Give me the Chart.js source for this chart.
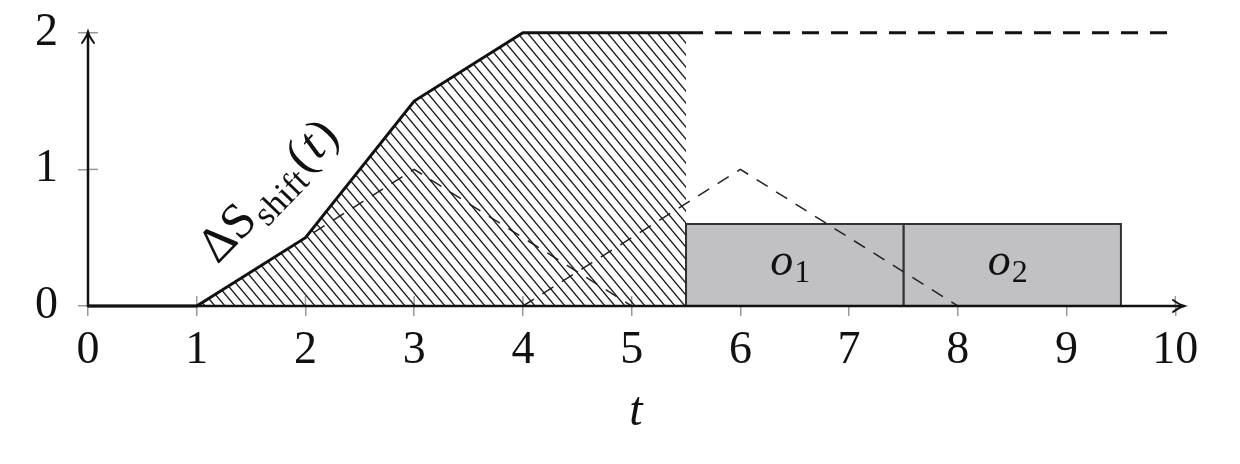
<!DOCTYPE html>
<html>
<head>
<meta charset="utf-8">
<script src="https://cdn.jsdelivr.net/npm/chart.js@4/dist/chart.umd.min.js"></script>
<style>
  html, body { margin: 0; padding: 0; background: #fff; }
  #wrap { width: 1240px; height: 464px; }
</style>
</head>
<body>
<div id="wrap"><canvas id="chart" width="1240" height="464"></canvas></div>
<script>
// shift curve (solid part, hatched underneath)
var shiftT = [0, 1, 2, 3, 4, 5.5];
var shiftS = [0, 0, 0.5, 1.5, 2, 2];
// dashed continuation
var tailT = [5.5, 10];
var tailS = [2, 2];
// two dashed triangles
var tri1T = [1, 3, 5];
var tri1S = [0, 1, 0];
var tri2T = [4, 6, 8];
var tri2S = [0, 1, 0];
// operations (gray boxes)
var opNames = ['o', 'o'];
var opSubs = ['1', '2'];
var opStart = [5.5, 7.5];
var opEnd = [7.5, 9.5];
var opHeight = [0.6, 0.6];
// ticks
var xTicks = [0, 1, 2, 3, 4, 5, 6, 7, 8, 9, 10];
var yTicks = [0, 1, 2];

var serif = '"Liberation Serif", "DejaVu Serif", serif';

function pts(xs, ys) {
  return xs.map(function(x, i) { return { x: x, y: ys[i] }; });
}

function boxPts(i) {
  return [
    { x: opStart[i], y: 0 },
    { x: opStart[i], y: opHeight[i] },
    { x: opEnd[i], y: opHeight[i] },
    { x: opEnd[i], y: 0 }
  ];
}

// north west lines pattern
function hatchPattern() {
  var c = document.createElement('canvas');
  c.width = 10; c.height = 12;
  var g = c.getContext('2d');
  g.strokeStyle = '#1a1a1a';
  g.lineWidth = 1.4;
  [-10, 0, 10].forEach(function(dx) {
    g.beginPath();
    g.moveTo(dx - 1, -1.2);
    g.lineTo(dx + 11, 13.2);
    g.stroke();
  });
  return document.createElement('canvas').getContext('2d').createPattern(c, 'repeat');
}

// axes with arrows + inner tick halves
var axesPlugin = {
  id: 'axes',
  beforeDatasetsDraw: function(chart) {
    var ctx = chart.ctx, xs = chart.scales.x, ys = chart.scales.y;
    var x0 = xs.getPixelForValue(0), y0 = ys.getPixelForValue(0);
    ctx.save();
    ctx.strokeStyle = '#999';
    ctx.lineWidth = 1.5;
    xTicks.forEach(function(v) {
      var px = xs.getPixelForValue(v);
      ctx.beginPath(); ctx.moveTo(px, y0); ctx.lineTo(px, y0 - 10); ctx.stroke();
    });
    yTicks.forEach(function(v) {
      var py = ys.getPixelForValue(v);
      ctx.beginPath(); ctx.moveTo(x0, py); ctx.lineTo(x0 + 10, py); ctx.stroke();
    });
    ctx.restore();
  },
  afterDatasetsDraw: function(chart) {
    var ctx = chart.ctx, xs = chart.scales.x, ys = chart.scales.y;
    var x0 = xs.getPixelForValue(0), y0 = ys.getPixelForValue(0);
    var xr = chart.chartArea.right, yt = chart.chartArea.top + 2;
    ctx.save();
    ctx.strokeStyle = '#111';
    ctx.lineWidth = 2.5;
    ctx.lineCap = 'round';
    ctx.beginPath(); ctx.moveTo(x0, y0); ctx.lineTo(xr, y0); ctx.stroke();
    ctx.beginPath(); ctx.moveTo(x0, y0); ctx.lineTo(x0, yt); ctx.stroke();
    ctx.lineWidth = 2;
    ctx.beginPath();
    ctx.moveTo(xr - 11, y0 - 6); ctx.quadraticCurveTo(xr - 4, y0 - 1, xr, y0);
    ctx.quadraticCurveTo(xr - 4, y0 + 1, xr - 11, y0 + 6);
    ctx.stroke();
    ctx.beginPath();
    ctx.moveTo(x0 - 6, yt + 11); ctx.quadraticCurveTo(x0 - 1, yt + 4, x0, yt);
    ctx.quadraticCurveTo(x0 + 1, yt + 4, x0 + 6, yt + 11);
    ctx.stroke();
    ctx.restore();
  }
};

// text labels: box names and the curve label
var labelPlugin = {
  id: 'labels',
  afterDraw: function(chart) {
    var ctx = chart.ctx, xs = chart.scales.x, ys = chart.scales.y;
    ctx.save();
    ctx.fillStyle = '#111';
    ctx.textBaseline = 'alphabetic';
    opNames.forEach(function(n, i) {
      var cx = xs.getPixelForValue((opStart[i] + opEnd[i]) / 2) - 5;
      var cy = ys.getPixelForValue(opHeight[i] / 2);
      ctx.font = 'italic 46px ' + serif;
      var w1 = ctx.measureText(n).width;
      ctx.font = '32px ' + serif;
      var w2 = ctx.measureText(opSubs[i]).width;
      var left = cx - (w1 + w2) / 2;
      ctx.font = 'italic 46px ' + serif;
      ctx.fillText(n, left, cy + 10);
      ctx.font = '32px ' + serif;
      ctx.fillText(opSubs[i], left + w1 + 1, cy + 17);
    });

    // ΔS_shift(t) along the rising curve
    var ax = xs.getPixelForValue(1.19), ay = ys.getPixelForValue(0.3);
    ctx.translate(ax, ay);
    ctx.rotate(-46 * Math.PI / 180);
    var parts = [
      { t: 'ΔS', f: '50px ' + serif, dy: 0 },
      { t: 'shift', f: '35px ' + serif, dy: 10 },
      { t: '(', f: '50px ' + serif, dy: 0 },
      { t: 't', f: 'italic 50px ' + serif, dy: 0 },
      { t: ')', f: '50px ' + serif, dy: 0 }
    ];
    var x = 0;
    parts.forEach(function(p) {
      ctx.font = p.f;
      ctx.fillText(p.t, x, p.dy);
      x += ctx.measureText(p.t).width + 2;
    });
    ctx.restore();
  }
};

var boxColor = '#c1c1c3';
var boxBorder = '#333';

var ctx = document.getElementById('chart').getContext('2d');
new Chart(ctx, {
  type: 'line',
  data: {
    datasets: [
      {
        data: pts(shiftT, shiftS),
        borderColor: '#111',
        borderWidth: 3,
        backgroundColor: hatchPattern(),
        fill: 'origin',
        pointRadius: 0,
        tension: 0
      },
      {
        data: pts(tailT, tailS),
        borderColor: '#111',
        borderWidth: 3,
        borderDash: [17, 12],
        fill: false,
        pointRadius: 0
      },
      {
        data: pts(tri1T, tri1S),
        borderColor: '#222',
        borderWidth: 1.5,
        borderDash: [13, 10],
        fill: false,
        pointRadius: 0
      },
      {
        data: pts(tri2T, tri2S),
        borderColor: '#222',
        borderWidth: 1.5,
        borderDash: [13, 10],
        fill: false,
        pointRadius: 0
      },
      {
        data: boxPts(0),
        borderColor: boxBorder,
        borderWidth: 2,
        backgroundColor: boxColor,
        fill: 'origin',
        pointRadius: 0
      },
      {
        data: boxPts(1),
        borderColor: boxBorder,
        borderWidth: 2,
        backgroundColor: boxColor,
        fill: 'origin',
        pointRadius: 0
      }
    ]
  },
  options: {
    responsive: false,
    animation: false,
    devicePixelRatio: 1,
    clip: false,
    layout: { padding: { top: 30, right: 56, left: 0, bottom: 0 } },
    plugins: { legend: { display: false }, tooltip: { enabled: false } },
    scales: {
      x: {
        type: 'linear',
        min: 0,
        max: 10.08,
        afterBuildTicks: function(s) {
          s.ticks = xTicks.map(function(v) { return { value: v }; });
        },
        afterFit: function(s) {
          s.height = 158;
          s.paddingLeft = 0; s.paddingRight = 0;
        },
        border: { display: false },
        grid: { drawOnChartArea: false, tickLength: 10, color: '#999', lineWidth: 1.5 },
        ticks: {
          autoSkip: false, maxRotation: 0, padding: 7, color: '#111',
          font: { family: serif, size: 46 }
        },
        title: {
          display: true, text: 't', color: '#111',
          font: { family: serif, size: 48, style: 'italic' },
          padding: { top: 0, bottom: 23 }
        }
      },
      y: {
        type: 'linear',
        min: 0,
        max: 2.02,
        afterBuildTicks: function(s) {
          s.ticks = yTicks.map(function(v) { return { value: v }; });
        },
        afterFit: function(s) {
          s.width = 88;
          s.paddingTop = 0; s.paddingBottom = 0;
        },
        border: { display: false },
        grid: { drawOnChartArea: false, tickLength: 10, color: '#999', lineWidth: 1.5 },
        ticks: {
          autoSkip: false, padding: 20, color: '#111',
          font: { family: serif, size: 46 }
        }
      }
    }
  },
  plugins: [axesPlugin, labelPlugin]
});
</script>
</body>
</html>
